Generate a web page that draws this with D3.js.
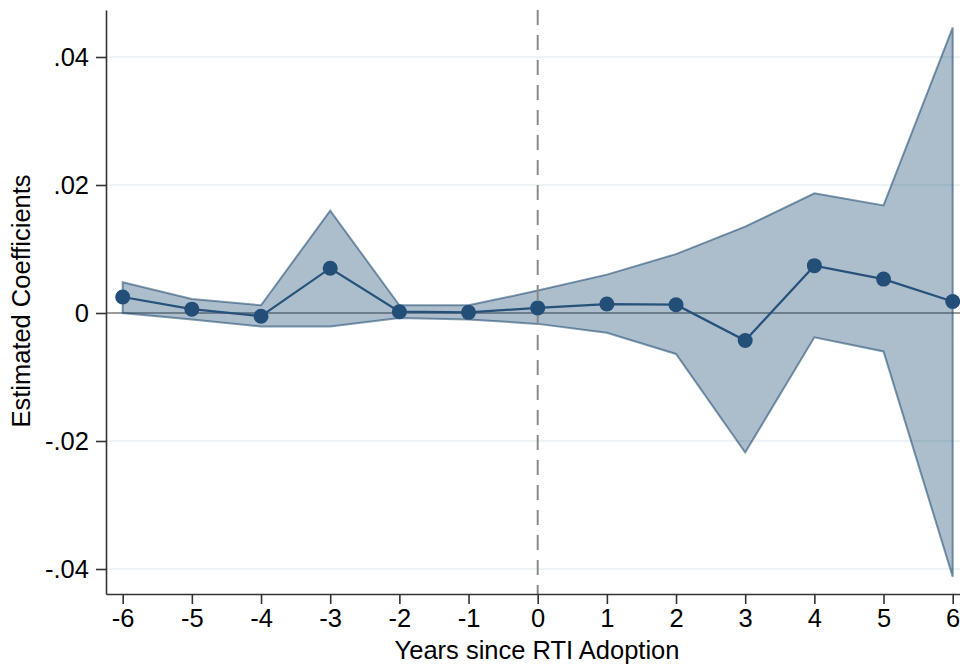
<!DOCTYPE html>
<html>
<head>
<meta charset="utf-8">
<script src="https://cdn.jsdelivr.net/npm/d3@7"></script>
<style>
  body { margin: 0; background: #fff; }
  svg { display: block; font-family: "Liberation Sans", Arial, sans-serif; }
</style>
</head>
<body>
<svg id="chart" width="960" height="668"></svg>
<script>
// event study estimates
const years = [-6, -5, -4, -3, -2, -1, 0, 1, 2, 3, 4, 5, 6]
const coef  = [0.0025, 0.0006, -0.0005, 0.0070, 0.0002, 0.0001, 0.0008, 0.0014, 0.0013, -0.0043, 0.0074, 0.0053, 0.0018]
const upper = [0.0048, 0.0022, 0.0012, 0.0160, 0.0012, 0.0012, 0.0035, 0.0060, 0.0092, 0.0135, 0.0187, 0.0168, 0.0446]
const lower = [0.0000, -0.0010, -0.0021, -0.0021, -0.0008, -0.0010, -0.0017, -0.0031, -0.0064, -0.0218, -0.0038, -0.0060, -0.0412]
const yTicks = [-0.04, -0.02, 0, 0.02, 0.04]

const navy = "#1a476f"
const svg = d3.select("#chart")

// plot box
const boxL = 106, boxR = 960, boxT = 10, boxB = 594

const x = d3.scaleLinear().domain([-6, 6]).range([122.7, 952.7])
const y = d3.scaleLinear().domain([-0.04, 0.04]).range([569, 57])
// stretch domains so the axis lines run to the box edges
x.domain([x.invert(boxL), x.invert(boxR)]).range([boxL, boxR])
y.domain([y.invert(boxB), y.invert(boxT)]).range([boxB, boxT])

// stata style: ".04", "-.02", plain hyphen
const fmt = v => v === 0 ? "0" : v.toFixed(2).replace("0.", ".")

// gridlines
svg.append("g").selectAll("line")
  .data(yTicks.filter(v => v !== 0))
  .join("line")
    .attr("x1", boxL).attr("x2", boxR)
    .attr("y1", d => y(d)).attr("y2", d => y(d))
    .attr("stroke", "#e8f1f2").attr("stroke-width", 1.5)

// zero line
svg.append("line")
  .attr("x1", boxL).attr("x2", boxR)
  .attr("y1", y(0)).attr("y2", y(0))
  .attr("stroke", "#7a7a7a").attr("stroke-width", 1.5)

const rows = years.map((yr, i) => ({ yr, b: coef[i], hi: upper[i], lo: lower[i] }))

// confidence band
const area = d3.area()
  .x(d => x(d.yr))
  .y0(d => y(d.lo))
  .y1(d => y(d.hi))

svg.append("path")
  .datum(rows)
  .attr("d", area)
  .attr("fill", navy).attr("fill-opacity", 0.36)
  .attr("stroke", navy).attr("stroke-opacity", 0.55)
  .attr("stroke-width", 2)
  .attr("stroke-linejoin", "miter")

// adoption year
svg.append("line")
  .attr("x1", x(0)).attr("x2", x(0))
  .attr("y1", boxT).attr("y2", boxB)
  .attr("stroke", "#8a8a8a").attr("stroke-width", 2)
  .attr("stroke-dasharray", "15,10")

// point estimates
const line = d3.line().x(d => x(d.yr)).y(d => y(d.b))
svg.append("path")
  .datum(rows)
  .attr("d", line)
  .attr("fill", "none")
  .attr("stroke", "#26517b").attr("stroke-width", 2.2)

svg.append("g").selectAll("circle")
  .data(rows)
  .join("circle")
    .attr("cx", d => x(d.yr)).attr("cy", d => y(d.b))
    .attr("r", 7.5)
    .attr("fill", "#234e78")

// axes
const yAxis = svg.append("g")
  .attr("transform", `translate(${boxL},0)`)
  .call(d3.axisLeft(y).tickValues(yTicks).tickFormat(fmt).tickSize(10).tickPadding(7).tickSizeOuter(0))

const xAxis = svg.append("g")
  .attr("transform", `translate(0,${boxB})`)
  .call(d3.axisBottom(x).tickValues(years).tickFormat(d => String(d)).tickSize(10).tickPadding(5).tickSizeOuter(0))

;[yAxis, xAxis].forEach(g => {
  g.select(".domain").attr("stroke", "#333").attr("stroke-width", 1.6)
  g.selectAll(".tick line").attr("stroke", "#333").attr("stroke-width", 1.6)
  g.selectAll(".tick text").attr("fill", "#000").attr("font-size", 25.5)
    .attr("font-family", "'Liberation Sans', Arial, sans-serif")
})

// titles
svg.append("text")
  .attr("x", 537).attr("y", 659)
  .attr("text-anchor", "middle")
  .attr("font-size", 25.5)
  .text("Years since RTI Adoption")

svg.append("text")
  .attr("transform", "translate(30,301) rotate(-90)")
  .attr("text-anchor", "middle")
  .attr("font-size", 25.5)
  .text("Estimated Coefficients")
</script>
</body>
</html>
